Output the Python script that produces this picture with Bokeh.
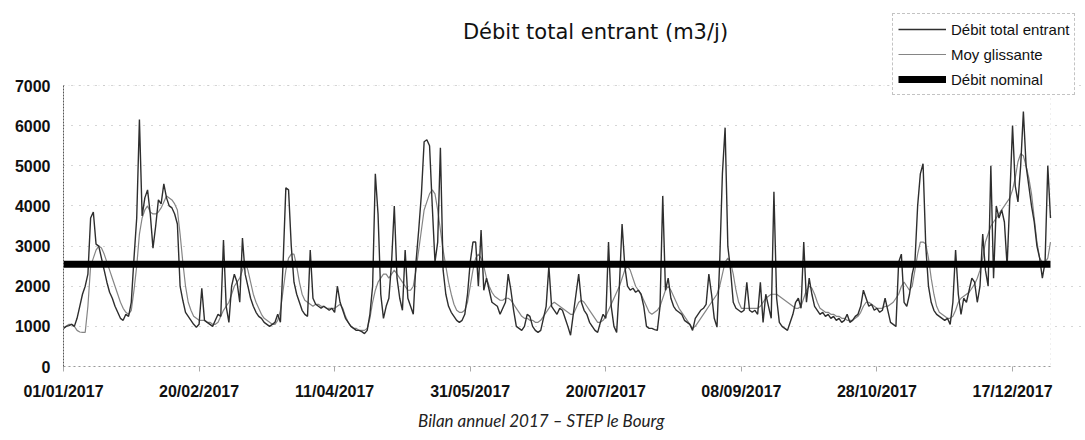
import numpy as np
import pandas as pd
from bokeh.plotting import figure
from bokeh.layouts import column
from bokeh.models import FixedTicker, Legend, LegendItem, Label, Range1d, BoxAnnotation
from bokeh.embed import file_html
from bokeh.resources import INLINE

# ---------------- data ----------------
START = "2017-01-01"
TITLE = "Débit total entrant (m3/j)"
CAPTION = "Bilan annuel 2017 – STEP le Bourg"
LEGEND_LABELS = ["Débit total entrant", "Moy glissante", "Débit nominal"]
TICK_DATES = ["2017-01-01", "2017-02-20", "2017-04-11", "2017-05-31",
              "2017-07-20", "2017-09-08", "2017-10-28", "2017-12-17"]
TICK_LABELS = ["01/01/2017", "20/02/2017", "11/04/2017", "31/05/2017",
               "20/07/2017", "08/09/2017", "28/10/2017", "17/12/2017"]
Y_TICKS = [0, 1000, 2000, 3000, 4000, 5000, 6000, 7000]
NOMINAL = 2550

DEBIT = [
    950, 1000, 1020, 1050, 1000, 1200, 1500, 1800, 2000, 2300,
    3700, 3850, 3050, 3000, 2700, 2400, 2100, 1850, 1700, 1500,
    1350, 1200, 1150, 1300, 1250, 1600, 2700, 3700, 6150, 3750,
    4200, 4400, 3800, 2950, 3500, 4150, 4050, 4550, 4200, 4000,
    3950, 3800, 3550, 2000, 1650, 1350, 1250, 1150, 1050, 980,
    1050, 1950, 1150, 1100, 1050, 1000, 1150, 1300, 1250, 3150,
    1500, 1100, 2000, 2300, 2100, 1600, 3200, 2300, 2000, 1700,
    1500, 1350, 1250, 1200, 1100, 1050, 1000, 1050, 1100, 1300,
    1100, 2600, 4450, 4400, 3000, 2100, 1800, 1600, 1400, 1300,
    1250, 2900, 1700, 1550, 1500, 1450, 1500, 1450, 1400, 1450,
    1350, 2000, 1600, 1400, 1200, 1100, 1000, 950, 900, 900,
    870, 820, 900, 1300, 2000, 4800, 3800, 1800, 1200, 1500,
    1700, 2600, 4000, 2200, 1700, 1400, 2900, 1700, 1500, 1300,
    2600, 3400, 4300, 5600, 5650, 5500, 4000, 2600, 3100, 5450,
    2400, 1800, 1500, 1350, 1250, 1150, 1100, 1150, 1300, 1800,
    2600, 3100, 3100, 2000, 3400, 1900, 2200, 1900, 1600, 1550,
    1500, 1300, 1450, 1600, 2300, 1900, 1400, 1000, 950, 900,
    1000, 1300, 1250, 1000, 900, 850, 900, 1200, 1500, 2500,
    1500, 1400, 1300, 1450, 1400, 1200, 1000, 780, 1300, 1800,
    2300, 1600, 1400, 1300, 1100, 1000, 900, 850, 1100, 1300,
    1200, 3100, 1500, 1000, 850, 2000, 3550, 2500, 2000, 1900,
    1950, 1850, 1900, 1800, 1500, 1000, 950, 950, 920, 900,
    1500, 4250, 1900, 2200, 1700, 1500, 1400, 1350, 1300, 1150,
    1100, 1050, 900, 1200, 1300, 1400, 1450, 1550, 2300, 1800,
    1200, 980, 2600, 4800, 5950, 3000, 2400, 1600, 1450, 1400,
    1350, 1400, 2100, 1400, 1350, 1400, 1300, 2100, 1100, 1800,
    1500, 1200, 4350, 1700, 1100, 1000, 950, 900, 1100, 1300,
    1600, 1700, 1450, 3100, 1600, 2200, 1800, 1500, 1400, 1300,
    1350, 1250, 1300, 1200, 1250, 1150, 1200, 1100, 1150, 1300,
    1100, 1150, 1250, 1300, 1500, 1900, 1700, 1500, 1550, 1400,
    1450, 1350, 1400, 1700, 1400, 1100, 1050, 1000, 2600, 2800,
    1600, 1500, 1800, 2300, 2600, 4000, 4800, 5050, 3000, 2000,
    1600, 1400, 1300, 1250, 1200, 1150, 1200, 1050, 1600, 2900,
    1800, 1300, 1700, 1600, 1900, 2200, 2100, 1600, 2000, 3300,
    2400, 2000, 5000, 2200, 4000, 3700, 3900, 3600, 2500, 4200,
    6000, 4500, 4100, 5000, 6350, 5000, 4500, 4000, 3600, 3000,
    2700, 2200, 2600, 5000, 3700,
]

MOY = [
    950, 1000, 1050, 1050, 1000, 900, 860, 850, 850, 1500,
    2500, 2700, 2900, 3000, 2950, 2800, 2600, 2400, 2200, 2000,
    1800, 1600, 1450, 1350, 1300, 1400, 1900, 2500, 3300, 3700,
    3900, 4000, 3850, 3800, 3800, 3850, 3950, 4100, 4250, 4200,
    4150, 4050, 3900, 3300, 2600, 2000, 1600, 1400, 1250, 1200,
    1150, 1150, 1150, 1100, 1100, 1050, 1050, 1100, 1250, 1400,
    1500, 1600, 1800, 2000, 2100, 2200, 2400, 2600, 2400, 2100,
    1800, 1600, 1450, 1300, 1200, 1150, 1100, 1050, 1050, 1150,
    1400, 1900, 2400, 2700, 2800, 2800, 2500, 2100, 1800, 1650,
    1600, 1550, 1500, 1550, 1550, 1500, 1500, 1450, 1450, 1450,
    1450, 1500, 1550, 1450, 1250, 1100, 1000, 950, 950, 900,
    900, 900, 950, 1200, 1600, 1900, 2100, 2200, 2300, 2300,
    2200, 2300, 2400, 2300, 2200, 2100, 2000, 1900, 1900, 2000,
    2400, 2900, 3400, 3900, 4100, 4300, 4400, 4300, 3900, 3400,
    2900, 2500, 2100, 1800, 1550, 1400, 1350, 1350, 1400, 1600,
    2000, 2400, 2700, 2800, 2700, 2500, 2200, 2000, 1850, 1750,
    1700, 1650, 1650, 1700, 1700, 1650, 1550, 1450, 1350, 1250,
    1200, 1200, 1150, 1150, 1100, 1100, 1150, 1250, 1350, 1450,
    1550, 1600, 1550, 1500, 1450, 1400, 1350, 1300, 1300, 1450,
    1600, 1650, 1600, 1500, 1400, 1300, 1200, 1100, 1100, 1150,
    1250, 1400, 1550, 1700, 1850, 2000, 2200, 2400, 2500, 2400,
    2200, 2000, 1900, 1800, 1650, 1500, 1350, 1300, 1350, 1400,
    1500, 1700, 1900, 2000, 1900, 1750, 1600, 1450, 1350, 1250,
    1150, 1050, 950, 1000, 1100, 1200, 1300, 1400, 1500, 1600,
    1700, 1800, 2000, 2300, 2600, 2700, 2600, 2300, 1900, 1600,
    1450, 1450, 1450, 1450, 1450, 1450, 1450, 1500, 1600, 1700,
    1750, 1800, 1800, 1800, 1750, 1700, 1650, 1600, 1550, 1500,
    1450, 1450, 1500, 1700, 1900, 2000, 1950, 1800, 1600, 1450,
    1400, 1350, 1350, 1300, 1300, 1250, 1250, 1200, 1200, 1150,
    1150, 1150, 1200, 1250, 1350, 1500, 1600, 1600, 1550, 1500,
    1450, 1450, 1450, 1500, 1500, 1550, 1600, 1700, 1800, 2000,
    2100, 2000, 1900, 2000, 2400, 2800, 3100, 3100, 3050, 2700,
    2200, 1800, 1500, 1350, 1300, 1250, 1200, 1200, 1250, 1400,
    1600, 1700, 1750, 1800, 1850, 1950, 2050, 2200, 2400, 2700,
    3100, 3300, 3500, 3600, 3700, 3800, 3900, 4000, 4100, 4200,
    4400, 4700, 5100, 5300, 5250, 5000, 4700, 4300, 3700, 3100,
    2700, 2600, 2600, 2700, 3100,
]

# ---------------- layout ----------------
start = pd.Timestamp(START)
DAYS = list(range(len(DEBIT)))
TICK_POS = [int((pd.Timestamp(d) - start).days) for d in TICK_DATES]
YMAX = Y_TICKS[-1]

W = 1085
H_MAIN, H_CAP = 404, 36
AX_L, AX_R = 63, 1050      # pixel x of first / last day
AX_T, AX_B = 85, 366       # pixel y of YMAX / 0
px_day = (AX_R - AX_L) / (DAYS[-1] - DAYS[0])
px_val = (AX_B - AX_T) / YMAX

# the frame reaches the top and right edges so that the title and legend
# (drawn in data space) are not clipped; axes are bounded to the data area
x_end = DAYS[-1] + (W - AX_R) / px_day
y_top = YMAX + AX_T / px_val
xr = Range1d(DAYS[0], x_end)

p = figure(width=W, height=H_MAIN, output_backend="svg", toolbar_location=None,
           x_range=xr, y_range=Range1d(0, y_top),
           min_border_left=AX_L, min_border_right=0,
           min_border_top=0, min_border_bottom=H_MAIN - AX_B,
           background_fill_color="white", border_fill_color="white")
p.outline_line_color = None

def dx(px):
    return DAYS[0] + (px - AX_L) / px_day
def dy(py):
    return (AX_B - py) / px_val

# plot-area border (dotted, as in the scan)
p.add_layout(BoxAnnotation(left=DAYS[0], right=DAYS[-1], bottom=0, top=YMAX,
                           fill_alpha=0, line_color="#999999", line_dash="1 4",
                           line_width=1))

r_moy = p.line(DAYS, MOY, line_color="#858585", line_width=1.2)
r_deb = p.line(DAYS, DEBIT, line_color="#2e2e2e", line_width=1.4)
r_nom = p.line([DAYS[0], DAYS[-1]], [NOMINAL, NOMINAL], line_color="black", line_width=7)

# axes
p.xaxis.ticker = FixedTicker(ticks=TICK_POS)
p.xaxis.major_label_overrides = {t: l for t, l in zip(TICK_POS, TICK_LABELS)}
p.xaxis.bounds = (DAYS[0], DAYS[-1])
p.yaxis.ticker = FixedTicker(ticks=Y_TICKS)
p.yaxis.bounds = (0, YMAX)
for ax in (p.xaxis[0], p.yaxis[0]):
    ax.major_label_text_font = "Liberation Sans"
    ax.major_label_text_font_style = "bold"
    ax.major_label_text_font_size = "16px"
    ax.major_label_text_color = "#111111"
    ax.minor_tick_line_color = None
p.xaxis.major_tick_out = 5
p.xaxis.major_tick_in = 0
p.xaxis.major_tick_line_color = "#aaaaaa"
p.xaxis.major_label_standoff = 11
p.xaxis.axis_line_color = "#999999"
p.xaxis.axis_line_dash = "2 3"
p.yaxis.major_tick_out = 0
p.yaxis.major_tick_in = 0
p.yaxis.major_label_standoff = 13
p.yaxis.axis_line_color = "#555555"
p.yaxis.axis_line_dash = "2 1"

p.xgrid.grid_line_color = None
p.ygrid.grid_line_color = "#999999"
p.ygrid.grid_line_dash = "1 7"
p.ygrid.grid_line_alpha = 0.8

# legend
legend = Legend(items=[LegendItem(label=LEGEND_LABELS[0], renderers=[r_deb]),
                       LegendItem(label=LEGEND_LABELS[1], renderers=[r_moy]),
                       LegendItem(label=LEGEND_LABELS[2], renderers=[r_nom])],
                location=(892 - AX_L, AX_B - 95))
legend.label_text_font = "Liberation Sans"
legend.label_text_font_size = "15px"
legend.label_text_color = "#111111"
legend.glyph_width = 48
legend.glyph_height = 20
legend.label_height = 20
legend.label_standoff = 5
legend.spacing = 5
legend.padding = 5
legend.margin = 0
legend.border_line_color = "#888888"
legend.border_line_dash = "1 2"
legend.background_fill_color = "white"
legend.background_fill_alpha = 1.0
p.add_layout(legend)

# title (inside the frame, above the data area)
p.add_layout(Label(x=dx(595), y=dy(31), text=TITLE, text_align="center",
                   text_baseline="middle", text_font="DejaVu Sans",
                   text_font_size="21px", text_color="#111111"))

# caption strip under the chart: same frame placement and x range as the chart
c = figure(width=W, height=H_CAP, output_backend="svg", toolbar_location=None,
           x_axis_location=None, y_axis_location=None,
           x_range=xr, y_range=Range1d(0, H_CAP),
           min_border_left=AX_L, min_border_right=0, min_border_top=0, min_border_bottom=0,
           background_fill_color="white", border_fill_color="white")
c.grid.visible = False
c.outline_line_color = None
c.add_layout(Label(x=dx(541), y=H_CAP - (420 - H_MAIN), text=CAPTION, text_align="center",
                   text_baseline="middle", text_font="Lato", text_font_style="italic",
                   text_font_size="17px", text_color="#222222"))

layout = column(p, c, spacing=0)
open("out.html", "w").write(file_html(layout, INLINE))
